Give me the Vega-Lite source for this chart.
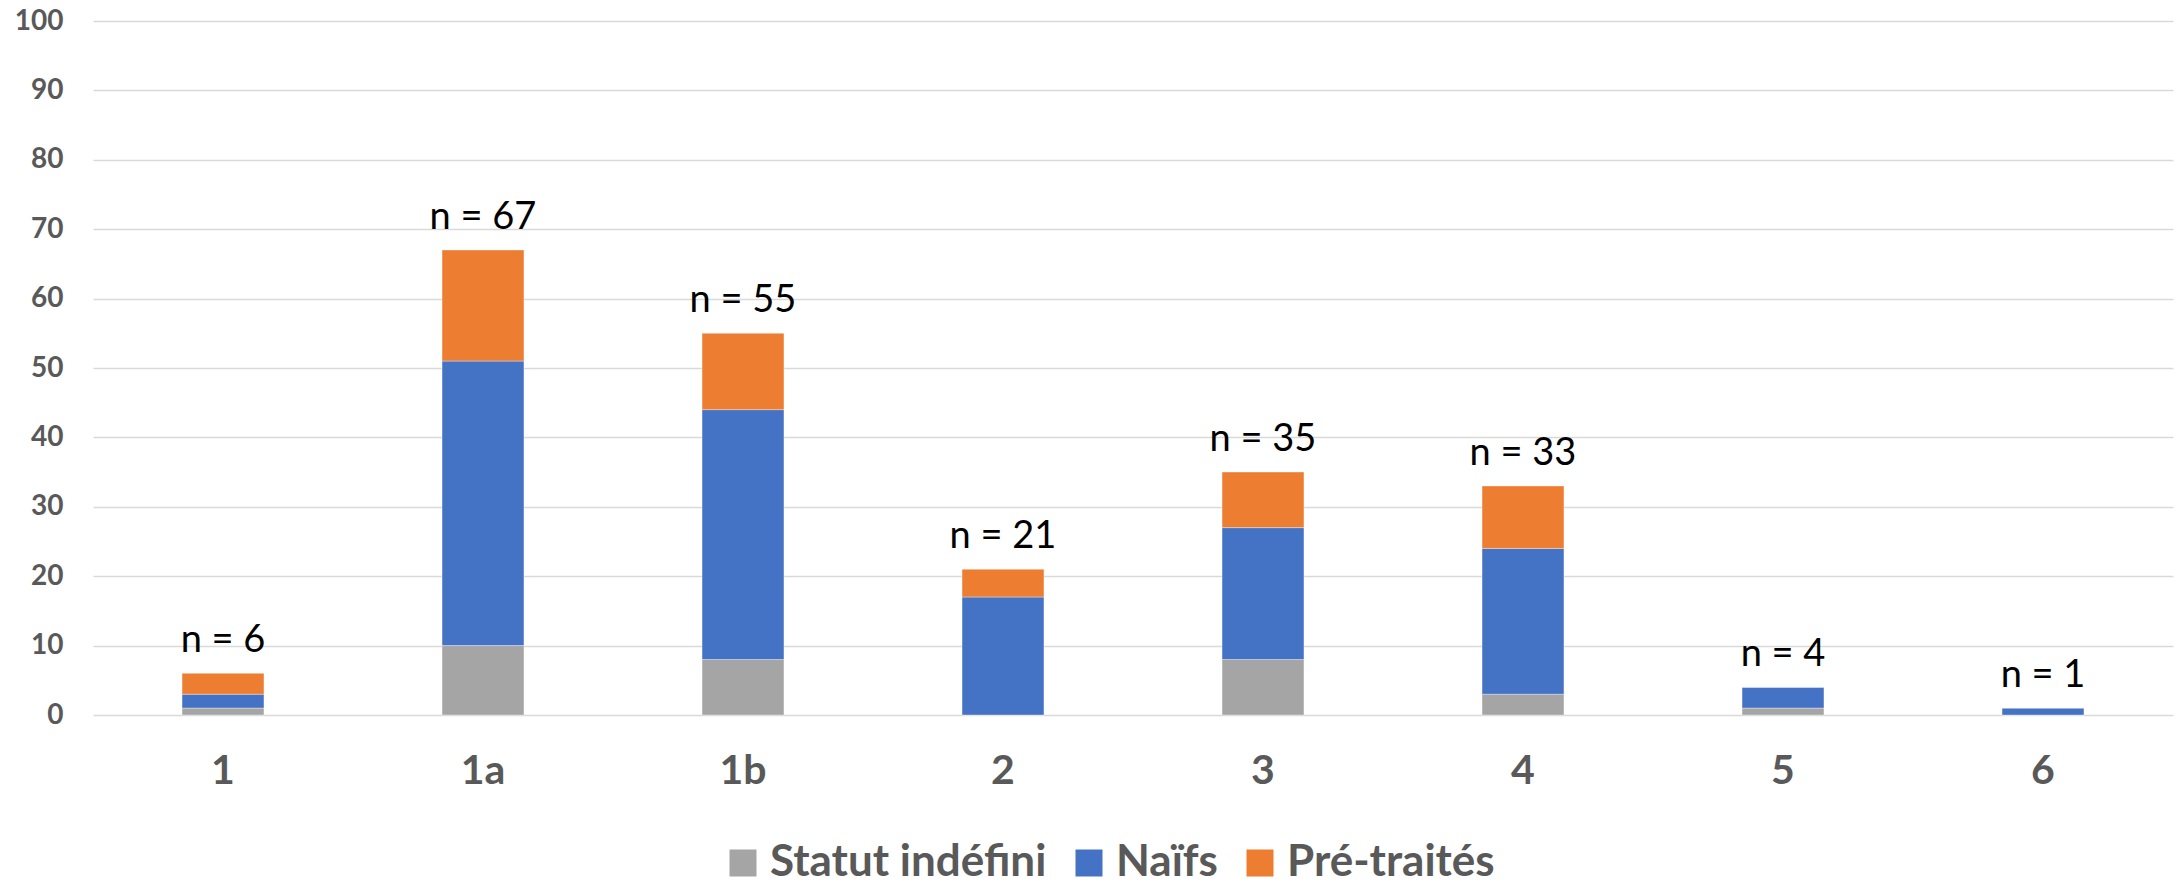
{
  "$schema": "https://vega.github.io/schema/vega-lite/v6.json",
  "width": 2080,
  "height": 694,
  "autosize": {"type": "none"},
  "padding": {"left": 93, "top": 21, "right": 5, "bottom": 171},
  "background": "white",
  "config": {"view": {"stroke": null}, "font": "Lato"},
  "datasets": {
    "bars": [
      {"groupe": "1", "statut": "Statut indéfini", "ord": 1, "n": 1},
      {"groupe": "1", "statut": "Naïfs", "ord": 2, "n": 2},
      {"groupe": "1", "statut": "Pré-traités", "ord": 3, "n": 3},
      {"groupe": "1a", "statut": "Statut indéfini", "ord": 1, "n": 10},
      {"groupe": "1a", "statut": "Naïfs", "ord": 2, "n": 41},
      {"groupe": "1a", "statut": "Pré-traités", "ord": 3, "n": 16},
      {"groupe": "1b", "statut": "Statut indéfini", "ord": 1, "n": 8},
      {"groupe": "1b", "statut": "Naïfs", "ord": 2, "n": 36},
      {"groupe": "1b", "statut": "Pré-traités", "ord": 3, "n": 11},
      {"groupe": "2", "statut": "Statut indéfini", "ord": 1, "n": 0},
      {"groupe": "2", "statut": "Naïfs", "ord": 2, "n": 17},
      {"groupe": "2", "statut": "Pré-traités", "ord": 3, "n": 4},
      {"groupe": "3", "statut": "Statut indéfini", "ord": 1, "n": 8},
      {"groupe": "3", "statut": "Naïfs", "ord": 2, "n": 19},
      {"groupe": "3", "statut": "Pré-traités", "ord": 3, "n": 8},
      {"groupe": "4", "statut": "Statut indéfini", "ord": 1, "n": 3},
      {"groupe": "4", "statut": "Naïfs", "ord": 2, "n": 21},
      {"groupe": "4", "statut": "Pré-traités", "ord": 3, "n": 9},
      {"groupe": "5", "statut": "Statut indéfini", "ord": 1, "n": 1},
      {"groupe": "5", "statut": "Naïfs", "ord": 2, "n": 3},
      {"groupe": "5", "statut": "Pré-traités", "ord": 3, "n": 0},
      {"groupe": "6", "statut": "Statut indéfini", "ord": 1, "n": 0},
      {"groupe": "6", "statut": "Naïfs", "ord": 2, "n": 1},
      {"groupe": "6", "statut": "Pré-traités", "ord": 3, "n": 0}
    ],
    "totals": [
      {"groupe": "1", "total": 6, "label": "n = 6"},
      {"groupe": "1a", "total": 67, "label": "n = 67"},
      {"groupe": "1b", "total": 55, "label": "n = 55"},
      {"groupe": "2", "total": 21, "label": "n = 21"},
      {"groupe": "3", "total": 35, "label": "n = 35"},
      {"groupe": "4", "total": 33, "label": "n = 33"},
      {"groupe": "5", "total": 4, "label": "n = 4"},
      {"groupe": "6", "total": 1, "label": "n = 1"}
    ]
  },
  "layer": [
    {
      "data": {"name": "bars"},
      "mark": {"type": "bar", "stroke": "#ffffff", "strokeOpacity": 0.35, "strokeWidth": 1},
      "encoding": {
        "x": {
          "field": "groupe", "type": "nominal", "sort": ["1", "1a", "1b", "2", "3", "4", "5", "6"],
          "scale": {"paddingInner": 0.685, "paddingOuter": 0.3425},
          "axis": {
            "title": null, "labelAngle": 0, "domain": false, "ticks": false,
            "labelFont": "Lato", "labelFontWeight": "bold", "labelFontSize": 41,
            "labelColor": "#595959", "labelPadding": 36, "labelBaseline": "top"
          }
        },
        "y": {
          "field": "n", "type": "quantitative", "aggregate": "sum", "stack": "zero",
          "scale": {"domain": [0, 100]},
          "axis": {
            "title": null, "values": [0, 10, 20, 30, 40, 50, 60, 70, 80, 90, 100],
            "domain": false, "ticks": false, "gridColor": "#d9d9d9", "gridWidth": 1.5,
            "labelFont": "Lato", "labelFontWeight": "bold", "labelFontSize": 28,
            "labelColor": "#595959", "labelPadding": 30
          }
        },
        "color": {
          "field": "statut", "type": "nominal",
          "scale": {"domain": ["Statut indéfini", "Naïfs", "Pré-traités"], "range": ["#a5a5a5", "#4472c4", "#ed7d31"]},
          "legend": {
            "title": null, "orient": "none", "direction": "horizontal",
            "legendX": 628, "legendY": 820,
            "symbolType": "square", "symbolSize": 729, "symbolStrokeWidth": 0,
            "labelFont": "Lato", "labelFontWeight": "bold", "labelFontSize": 44,
            "labelColor": "#595959", "labelOffset": 5, "columnPadding": 20,
            "labelLimit": 400, "padding": 0
          }
        },
        "order": {"field": "ord", "type": "quantitative"}
      }
    },
    {
      "data": {"name": "totals"},
      "mark": {"type": "text", "baseline": "alphabetic", "align": "center", "dy": -21, "font": "Lato", "fontSize": 38, "color": "#000000"},
      "encoding": {
        "x": {"field": "groupe", "type": "nominal", "sort": ["1", "1a", "1b", "2", "3", "4", "5", "6"]},
        "y": {"field": "total", "type": "quantitative"},
        "text": {"field": "label", "type": "nominal"}
      }
    }
  ]
}
